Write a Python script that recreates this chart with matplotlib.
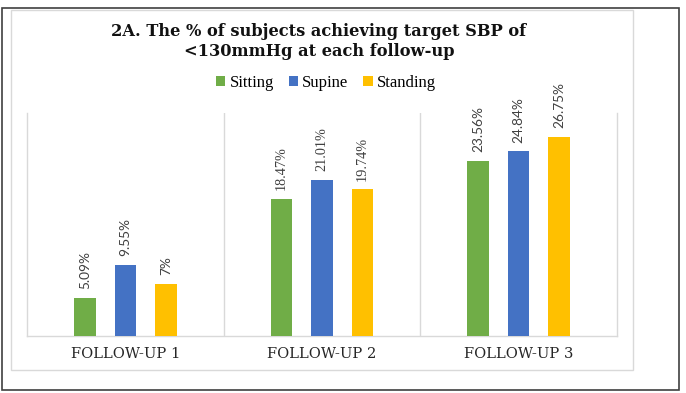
import matplotlib
matplotlib.use("Agg")
import matplotlib.pyplot as plt
from matplotlib.patches import Rectangle, Patch
import numpy as np

categories = ["FOLLOW-UP 1", "FOLLOW-UP 2", "FOLLOW-UP 3"]
series_names = ["Sitting", "Supine", "Standing"]
sitting = [5.09, 18.47, 23.56]
supine = [9.55, 21.01, 24.84]
standing = [7.0, 19.74, 26.75]
label_text = [["5.09%", "18.47%", "23.56%"],
              ["9.55%", "21.01%", "24.84%"],
              ["7%", "19.74%", "26.75%"]]
title_lines = ["2A. The % of subjects achieving target SBP of",
               "<130mmHg at each follow-up"]

colors = ["#70AD47", "#4472C4", "#FFC000"]
W, H = 686, 393
fig = plt.figure(figsize=(W / 100, H / 100), dpi=100)
renderer = fig.canvas.get_renderer()

def fx(px):
    return px / W

def fy(py):
    return 1 - py / H

def fit_width(t, target_px):
    bb = t.get_window_extent(renderer=renderer)
    t.set_fontsize(t.get_fontsize() * target_px / bb.width)

# outer frame
fig.patches.append(Rectangle((fx(2), fy(390)), fx(677), 382 / H, transform=fig.transFigure,
                             fill=False, edgecolor="#404040", linewidth=1.2))
# inner chart frame
fig.patches.append(Rectangle((fx(11), fy(370)), fx(622), 360 / H, transform=fig.transFigure,
                             fill=False, edgecolor="#D9D9D9", linewidth=1.0))

ax = fig.add_axes([fx(27), fy(336), fx(590), (336 - 113) / H])
x = np.arange(len(categories))
offs = 0.206
bw = 0.11
values = [sitting, supine, standing]
for i, (vals, c, name) in enumerate(zip(values, colors, series_names)):
    bars = ax.bar(x + (i - 1) * offs, vals, width=bw, color=c, label=name, zorder=3)
    for j, b in enumerate(bars):
        if j == 1:
            fam, fs = "Liberation Serif", 10.3
        else:
            fam, fs = "Lato", 9.8
        ax.annotate(label_text[i][j], (b.get_x() + b.get_width() / 2, b.get_height()),
                    xytext=(0, 6.3), textcoords="offset points", rotation=90,
                    ha="center", va="bottom", fontsize=fs, color="#404040", family=fam)

ax.set_xlim(-0.5, 2.5)
ax.set_ylim(0, 30)
ax.set_yticks([])
ax.set_xticks([])
ax.spines["top"].set_visible(False)
for s in ["left", "right", "bottom"]:
    ax.spines[s].set_color("#D9D9D9")
    ax.spines[s].set_linewidth(1.0)
for xv in [0.5, 1.5]:
    ax.axvline(xv, color="#D9D9D9", linewidth=1.0, zorder=1)

# category labels
for xi, cat in zip(x, categories):
    t = ax.text(xi, 0, cat, transform=ax.get_xaxis_transform(), ha="center", va="center",
                family="DejaVu Serif", fontsize=9, color="#262626")
    fit_width(t, 110)
    t.set_position((xi, (fy(353.5) - fy(336)) / ((336 - 113) / H)))

# title
t1 = fig.text(fx(319), fy(32), title_lines[0], ha="center", va="center",
              family="DejaVu Serif", fontweight="bold", fontsize=11, color="#111111")
fit_width(t1, 416)
t2 = fig.text(fx(319), fy(51.5), title_lines[1], ha="center", va="center",
              family="DejaVu Serif", fontweight="bold", fontsize=t1.get_fontsize(), color="#111111")

handles = [Patch(facecolor=c, label=n) for c, n in zip(colors, series_names)]
fig.legend(handles=handles, loc="center", bbox_to_anchor=(fx(326), fy(83)), ncol=3,
           frameon=False, prop={"family": "Liberation Serif", "size": 12},
           handlelength=0.55, handleheight=0.55, handletextpad=0.25, columnspacing=0.9)

fig.savefig("out.png", dpi=100)
